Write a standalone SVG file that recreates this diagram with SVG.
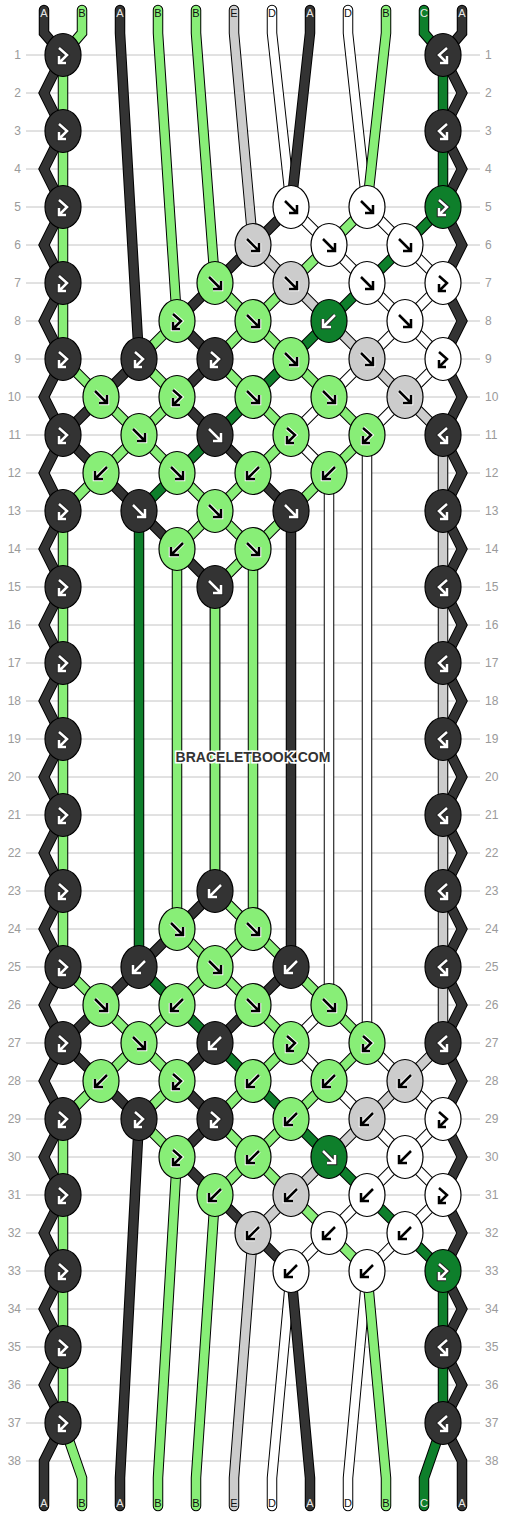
<svg xmlns="http://www.w3.org/2000/svg" xmlns:xlink="http://www.w3.org/1999/xlink" width="506" height="1516" viewBox="0 0 506 1516">
<style>
.bg{fill:#fff}
.rl{stroke:#c4c4c4;stroke-width:1}
.lab{font-family:"Liberation Sans",Arial,sans-serif;font-size:12px;fill:#9a9a9a}
.lr{text-anchor:end}
.o{fill:none;stroke:#000;stroke-width:10.5;stroke-linejoin:miter;stroke-linecap:round}
.i{fill:none;stroke-width:8.5;stroke-linejoin:miter;stroke-linecap:round}
.tA{stroke:#333333}.tB{stroke:#88ee77}.tC{stroke:#0e7f2b}.tD{stroke:#ffffff}.tE{stroke:#cccccc}
.k{stroke:#000;stroke-width:1.2}
.kA{fill:#333333}.kB{fill:#88ee77}.kC{fill:#0e7f2b}.kD{fill:#ffffff}.kE{fill:#cccccc}
.ad{stroke:#ffffff;color:#222222}
.al{stroke:#000000;color:#ffffff}
.tl{font-family:"Liberation Sans",Arial,sans-serif;font-size:11px;text-anchor:middle}
.tlw{fill:#e8e8e8}.tlk{fill:#111}
.wm{font-family:"Liberation Sans",Arial,sans-serif;font-size:14px;font-weight:bold;fill:#333;stroke:#fff;stroke-width:3;paint-order:stroke;text-anchor:middle}
</style>
<defs>
<g id="sF"><path d="M-6,-6 L5,5 M6,-2 V6 H-2" fill="none" stroke="currentColor" stroke-width="4.5"/><path d="M-6,-6 L5,5 M6,-2 V6 H-2" fill="none" stroke-width="2.5"/></g>
<g id="sB"><path d="M6,-6 L-5,5 M-6,-2 V6 H2" fill="none" stroke="currentColor" stroke-width="4.5"/><path d="M6,-6 L-5,5 M-6,-2 V6 H2" fill="none" stroke-width="2.5"/></g>
<g id="sFB"><path d="M-4,-7 L4,0 L-3,7 M-4,1 V8 H3" fill="none" stroke="currentColor" stroke-width="4.5"/><path d="M-4,-7 L4,0 L-3,7 M-4,1 V8 H3" fill="none" stroke-width="2.5"/></g>
<g id="sBF"><path d="M4,-7 L-4,0 L3,7 M4,1 V8 H-3" fill="none" stroke="currentColor" stroke-width="4.5"/><path d="M4,-7 L-4,0 L3,7 M4,1 V8 H-3" fill="none" stroke-width="2.5"/></g>
<ellipse id="kn" rx="18" ry="21.5"/>
</defs>
<rect class="bg" width="506" height="1516"/>
<g id="rows">
<line class="rl" x1="26" x2="480" y1="55" y2="55"/><line class="rl" x1="26" x2="480" y1="93" y2="93"/><line class="rl" x1="26" x2="480" y1="131" y2="131"/><line class="rl" x1="26" x2="480" y1="169" y2="169"/><line class="rl" x1="26" x2="480" y1="207" y2="207"/><line class="rl" x1="26" x2="480" y1="245" y2="245"/><line class="rl" x1="26" x2="480" y1="283" y2="283"/><line class="rl" x1="26" x2="480" y1="321" y2="321"/><line class="rl" x1="26" x2="480" y1="359" y2="359"/><line class="rl" x1="26" x2="480" y1="397" y2="397"/><line class="rl" x1="26" x2="480" y1="435" y2="435"/><line class="rl" x1="26" x2="480" y1="473" y2="473"/><line class="rl" x1="26" x2="480" y1="511" y2="511"/><line class="rl" x1="26" x2="480" y1="549" y2="549"/><line class="rl" x1="26" x2="480" y1="587" y2="587"/><line class="rl" x1="26" x2="480" y1="625" y2="625"/><line class="rl" x1="26" x2="480" y1="663" y2="663"/><line class="rl" x1="26" x2="480" y1="701" y2="701"/><line class="rl" x1="26" x2="480" y1="739" y2="739"/><line class="rl" x1="26" x2="480" y1="777" y2="777"/><line class="rl" x1="26" x2="480" y1="815" y2="815"/><line class="rl" x1="26" x2="480" y1="853" y2="853"/><line class="rl" x1="26" x2="480" y1="891" y2="891"/><line class="rl" x1="26" x2="480" y1="929" y2="929"/><line class="rl" x1="26" x2="480" y1="967" y2="967"/><line class="rl" x1="26" x2="480" y1="1005" y2="1005"/><line class="rl" x1="26" x2="480" y1="1043" y2="1043"/><line class="rl" x1="26" x2="480" y1="1081" y2="1081"/><line class="rl" x1="26" x2="480" y1="1119" y2="1119"/><line class="rl" x1="26" x2="480" y1="1157" y2="1157"/><line class="rl" x1="26" x2="480" y1="1195" y2="1195"/><line class="rl" x1="26" x2="480" y1="1233" y2="1233"/><line class="rl" x1="26" x2="480" y1="1271" y2="1271"/><line class="rl" x1="26" x2="480" y1="1309" y2="1309"/><line class="rl" x1="26" x2="480" y1="1347" y2="1347"/><line class="rl" x1="26" x2="480" y1="1385" y2="1385"/><line class="rl" x1="26" x2="480" y1="1423" y2="1423"/><line class="rl" x1="26" x2="480" y1="1461" y2="1461"/>
</g>
<g id="row-labels">
<text class="lab lr" x="21" y="59">1</text><text class="lab lr" x="21" y="97">2</text><text class="lab lr" x="21" y="135">3</text><text class="lab lr" x="21" y="173">4</text><text class="lab lr" x="21" y="211">5</text><text class="lab lr" x="21" y="249">6</text><text class="lab lr" x="21" y="287">7</text><text class="lab lr" x="21" y="325">8</text><text class="lab lr" x="21" y="363">9</text><text class="lab lr" x="21" y="401">10</text><text class="lab lr" x="21" y="439">11</text><text class="lab lr" x="21" y="477">12</text><text class="lab lr" x="21" y="515">13</text><text class="lab lr" x="21" y="553">14</text><text class="lab lr" x="21" y="591">15</text><text class="lab lr" x="21" y="629">16</text><text class="lab lr" x="21" y="667">17</text><text class="lab lr" x="21" y="705">18</text><text class="lab lr" x="21" y="743">19</text><text class="lab lr" x="21" y="781">20</text><text class="lab lr" x="21" y="819">21</text><text class="lab lr" x="21" y="857">22</text><text class="lab lr" x="21" y="895">23</text><text class="lab lr" x="21" y="933">24</text><text class="lab lr" x="21" y="971">25</text><text class="lab lr" x="21" y="1009">26</text><text class="lab lr" x="21" y="1047">27</text><text class="lab lr" x="21" y="1085">28</text><text class="lab lr" x="21" y="1123">29</text><text class="lab lr" x="21" y="1161">30</text><text class="lab lr" x="21" y="1199">31</text><text class="lab lr" x="21" y="1237">32</text><text class="lab lr" x="21" y="1275">33</text><text class="lab lr" x="21" y="1313">34</text><text class="lab lr" x="21" y="1351">35</text><text class="lab lr" x="21" y="1389">36</text><text class="lab lr" x="21" y="1427">37</text><text class="lab lr" x="21" y="1465">38</text>
<text class="lab" x="485" y="59">1</text><text class="lab" x="485" y="97">2</text><text class="lab" x="485" y="135">3</text><text class="lab" x="485" y="173">4</text><text class="lab" x="485" y="211">5</text><text class="lab" x="485" y="249">6</text><text class="lab" x="485" y="287">7</text><text class="lab" x="485" y="325">8</text><text class="lab" x="485" y="363">9</text><text class="lab" x="485" y="401">10</text><text class="lab" x="485" y="439">11</text><text class="lab" x="485" y="477">12</text><text class="lab" x="485" y="515">13</text><text class="lab" x="485" y="553">14</text><text class="lab" x="485" y="591">15</text><text class="lab" x="485" y="629">16</text><text class="lab" x="485" y="667">17</text><text class="lab" x="485" y="705">18</text><text class="lab" x="485" y="743">19</text><text class="lab" x="485" y="781">20</text><text class="lab" x="485" y="819">21</text><text class="lab" x="485" y="857">22</text><text class="lab" x="485" y="895">23</text><text class="lab" x="485" y="933">24</text><text class="lab" x="485" y="971">25</text><text class="lab" x="485" y="1009">26</text><text class="lab" x="485" y="1047">27</text><text class="lab" x="485" y="1085">28</text><text class="lab" x="485" y="1123">29</text><text class="lab" x="485" y="1161">30</text><text class="lab" x="485" y="1199">31</text><text class="lab" x="485" y="1237">32</text><text class="lab" x="485" y="1275">33</text><text class="lab" x="485" y="1313">34</text><text class="lab" x="485" y="1351">35</text><text class="lab" x="485" y="1389">36</text><text class="lab" x="485" y="1427">37</text><text class="lab" x="485" y="1465">38</text>
</g>
<g id="connectors">
<g id="t0"><polyline class="o" points="44,10 44,33 63,55 44,93 63,131 44,169 63,207 44,245 63,283 44,321 63,359 44,397 63,435 44,473 63,511 44,549 63,587 44,625 63,663 44,701 63,739 44,777 63,815 44,853 63,891 44,929 63,967 44,1005 63,1043 44,1081 63,1119 44,1157 63,1195 44,1233 63,1271 44,1309 63,1347 44,1385 63,1423 44,1461 44,1506"/><polyline class="i tA" points="44,10 44,33 63,55 44,93 63,131 44,169 63,207 44,245 63,283 44,321 63,359 44,397 63,435 44,473 63,511 44,549 63,587 44,625 63,663 44,701 63,739 44,777 63,815 44,853 63,891 44,929 63,967 44,1005 63,1043 44,1081 63,1119 44,1157 63,1195 44,1233 63,1271 44,1309 63,1347 44,1385 63,1423 44,1461 44,1506"/></g>
<g id="t11"><polyline class="o" points="462,10 462,33 443,55 462,93 443,131 462,169 443,207 462,245 443,283 462,321 443,359 462,397 443,435 462,473 443,511 462,549 443,587 462,625 443,663 462,701 443,739 462,777 443,815 462,853 443,891 462,929 443,967 462,1005 443,1043 462,1081 443,1119 462,1157 443,1195 462,1233 443,1271 462,1309 443,1347 462,1385 443,1423 462,1461 462,1506"/><polyline class="i tA" points="462,10 462,33 443,55 462,93 443,131 462,169 443,207 462,245 443,283 462,321 443,359 462,397 443,435 462,473 443,511 462,549 443,587 462,625 443,663 462,701 443,739 462,777 443,815 462,853 443,891 462,929 443,967 462,1005 443,1043 462,1081 443,1119 462,1157 443,1195 462,1233 443,1271 462,1309 443,1347 462,1385 443,1423 462,1461 462,1506"/></g>
<g id="t1"><polyline class="o" points="82,10 82,33 63,55 63,359 101,397 139,435 177,473 215,511 253,549 253,929 215,967 177,1005 139,1043 101,1081 63,1119 63,1423 82,1478 82,1506"/><polyline class="i tB" points="82,10 82,33 63,55 63,359 101,397 139,435 177,473 215,511 253,549 253,929 215,967 177,1005 139,1043 101,1081 63,1119 63,1423 82,1478 82,1506"/></g>
<g id="t2"><polyline class="o" points="120,10 120,33 139,359 101,397 63,435 101,473 139,511 177,549 215,587 215,891 177,929 139,967 101,1005 63,1043 101,1081 139,1119 120,1478 120,1506"/><polyline class="i tA" points="120,10 120,33 139,359 101,397 63,435 101,473 139,511 177,549 215,587 215,891 177,929 139,967 101,1005 63,1043 101,1081 139,1119 120,1478 120,1506"/></g>
<g id="t3"><polyline class="o" points="158,10 158,33 177,321 139,359 177,397 139,435 101,473 63,511 63,967 101,1005 139,1043 177,1081 139,1119 177,1157 158,1478 158,1506"/><polyline class="i tB" points="158,10 158,33 177,321 139,359 177,397 139,435 101,473 63,511 63,967 101,1005 139,1043 177,1081 139,1119 177,1157 158,1478 158,1506"/></g>
<g id="t4"><polyline class="o" points="196,10 196,33 215,283 253,321 291,359 329,397 367,435 329,473 291,511 253,549 215,587 215,891 253,929 291,967 329,1005 367,1043 329,1081 291,1119 253,1157 215,1195 196,1478 196,1506"/><polyline class="i tB" points="196,10 196,33 215,283 253,321 291,359 329,397 367,435 329,473 291,511 253,549 215,587 215,891 253,929 291,967 329,1005 367,1043 329,1081 291,1119 253,1157 215,1195 196,1478 196,1506"/></g>
<g id="t5"><polyline class="o" points="234,10 234,33 253,245 291,283 329,321 367,359 405,397 443,435 443,1043 405,1081 367,1119 329,1157 291,1195 253,1233 234,1478 234,1506"/><polyline class="i tE" points="234,10 234,33 253,245 291,283 329,321 367,359 405,397 443,435 443,1043 405,1081 367,1119 329,1157 291,1195 253,1233 234,1478 234,1506"/></g>
<g id="t6"><polyline class="o" points="272,10 272,33 291,207 329,245 367,283 405,321 443,359 405,397 367,435 367,1043 405,1081 443,1119 405,1157 367,1195 329,1233 291,1271 272,1478 272,1506"/><polyline class="i tD" points="272,10 272,33 291,207 329,245 367,283 405,321 443,359 405,397 367,435 367,1043 405,1081 443,1119 405,1157 367,1195 329,1233 291,1271 272,1478 272,1506"/></g>
<g id="t7"><polyline class="o" points="310,10 310,33 291,207 253,245 215,283 177,321 215,359 177,397 215,435 253,473 291,511 291,967 253,1005 215,1043 177,1081 215,1119 177,1157 215,1195 253,1233 291,1271 310,1478 310,1506"/><polyline class="i tA" points="310,10 310,33 291,207 253,245 215,283 177,321 215,359 177,397 215,435 253,473 291,511 291,967 253,1005 215,1043 177,1081 215,1119 177,1157 215,1195 253,1233 291,1271 310,1478 310,1506"/></g>
<g id="t8"><polyline class="o" points="348,10 348,33 367,207 405,245 443,283 405,321 367,359 329,397 291,435 329,473 329,1005 291,1043 329,1081 367,1119 405,1157 443,1195 405,1233 367,1271 348,1478 348,1506"/><polyline class="i tD" points="348,10 348,33 367,207 405,245 443,283 405,321 367,359 329,397 291,435 329,473 329,1005 291,1043 329,1081 367,1119 405,1157 443,1195 405,1233 367,1271 348,1478 348,1506"/></g>
<g id="t9"><polyline class="o" points="386,10 386,33 367,207 329,245 291,283 253,321 215,359 253,397 291,435 253,473 215,511 177,549 177,929 215,967 253,1005 291,1043 253,1081 215,1119 253,1157 291,1195 329,1233 367,1271 386,1478 386,1506"/><polyline class="i tB" points="386,10 386,33 367,207 329,245 291,283 253,321 215,359 253,397 291,435 253,473 215,511 177,549 177,929 215,967 253,1005 291,1043 253,1081 215,1119 253,1157 291,1195 329,1233 367,1271 386,1478 386,1506"/></g>
<g id="t10"><polyline class="o" points="424,10 424,33 443,55 443,207 405,245 367,283 329,321 291,359 253,397 215,435 177,473 139,511 139,967 177,1005 215,1043 253,1081 291,1119 329,1157 367,1195 405,1233 443,1271 443,1423 424,1478 424,1506"/><polyline class="i tC" points="424,10 424,33 443,55 443,207 405,245 367,283 329,321 291,359 253,397 215,435 177,473 139,511 139,967 177,1005 215,1043 253,1081 291,1119 329,1157 367,1195 405,1233 443,1271 443,1423 424,1478 424,1506"/></g>
</g>
<g id="thread-labels">
<text class="tl tlw" x="44" y="17">A</text><text class="tl tlk" x="82" y="17">B</text><text class="tl tlw" x="120" y="17">A</text><text class="tl tlk" x="158" y="17">B</text><text class="tl tlk" x="196" y="17">B</text><text class="tl tlk" x="234" y="17">E</text><text class="tl tlk" x="272" y="17">D</text><text class="tl tlw" x="310" y="17">A</text><text class="tl tlk" x="348" y="17">D</text><text class="tl tlk" x="386" y="17">B</text><text class="tl tlw" x="424" y="17">C</text><text class="tl tlw" x="462" y="17">A</text>
<text class="tl tlw" x="44" y="1507">A</text><text class="tl tlk" x="82" y="1507">B</text><text class="tl tlw" x="120" y="1507">A</text><text class="tl tlk" x="158" y="1507">B</text><text class="tl tlk" x="196" y="1507">B</text><text class="tl tlk" x="234" y="1507">E</text><text class="tl tlk" x="272" y="1507">D</text><text class="tl tlw" x="310" y="1507">A</text><text class="tl tlk" x="348" y="1507">D</text><text class="tl tlk" x="386" y="1507">B</text><text class="tl tlw" x="424" y="1507">C</text><text class="tl tlw" x="462" y="1507">A</text>
</g>
<g id="knots">
<g id="k1a" transform="translate(63,55)"><use href="#kn" class="k kA"/><use href="#sFB" class="ad"/></g>
<g id="k1f" transform="translate(443,55)"><use href="#kn" class="k kA"/><use href="#sBF" class="ad"/></g>
<g id="k3a" transform="translate(63,131)"><use href="#kn" class="k kA"/><use href="#sFB" class="ad"/></g>
<g id="k3f" transform="translate(443,131)"><use href="#kn" class="k kA"/><use href="#sBF" class="ad"/></g>
<g id="k5a" transform="translate(63,207)"><use href="#kn" class="k kA"/><use href="#sFB" class="ad"/></g>
<g id="k5d" transform="translate(291,207)"><use href="#kn" class="k kD"/><use href="#sF" class="al"/></g>
<g id="k5e" transform="translate(367,207)"><use href="#kn" class="k kD"/><use href="#sF" class="al"/></g>
<g id="k5f" transform="translate(443,207)"><use href="#kn" class="k kC"/><use href="#sFB" class="ad"/></g>
<g id="k6c" transform="translate(253,245)"><use href="#kn" class="k kE"/><use href="#sF" class="al"/></g>
<g id="k6d" transform="translate(329,245)"><use href="#kn" class="k kD"/><use href="#sF" class="al"/></g>
<g id="k6e" transform="translate(405,245)"><use href="#kn" class="k kD"/><use href="#sF" class="al"/></g>
<g id="k7a" transform="translate(63,283)"><use href="#kn" class="k kA"/><use href="#sFB" class="ad"/></g>
<g id="k7c" transform="translate(215,283)"><use href="#kn" class="k kB"/><use href="#sF" class="al"/></g>
<g id="k7d" transform="translate(291,283)"><use href="#kn" class="k kE"/><use href="#sF" class="al"/></g>
<g id="k7e" transform="translate(367,283)"><use href="#kn" class="k kD"/><use href="#sF" class="al"/></g>
<g id="k7f" transform="translate(443,283)"><use href="#kn" class="k kD"/><use href="#sFB" class="al"/></g>
<g id="k8b" transform="translate(177,321)"><use href="#kn" class="k kB"/><use href="#sFB" class="al"/></g>
<g id="k8c" transform="translate(253,321)"><use href="#kn" class="k kB"/><use href="#sF" class="al"/></g>
<g id="k8d" transform="translate(329,321)"><use href="#kn" class="k kC"/><use href="#sB" class="ad"/></g>
<g id="k8e" transform="translate(405,321)"><use href="#kn" class="k kD"/><use href="#sF" class="al"/></g>
<g id="k9a" transform="translate(63,359)"><use href="#kn" class="k kA"/><use href="#sFB" class="ad"/></g>
<g id="k9b" transform="translate(139,359)"><use href="#kn" class="k kA"/><use href="#sFB" class="ad"/></g>
<g id="k9c" transform="translate(215,359)"><use href="#kn" class="k kA"/><use href="#sFB" class="ad"/></g>
<g id="k9d" transform="translate(291,359)"><use href="#kn" class="k kB"/><use href="#sF" class="al"/></g>
<g id="k9e" transform="translate(367,359)"><use href="#kn" class="k kE"/><use href="#sF" class="al"/></g>
<g id="k9f" transform="translate(443,359)"><use href="#kn" class="k kD"/><use href="#sFB" class="al"/></g>
<g id="k10a" transform="translate(101,397)"><use href="#kn" class="k kB"/><use href="#sF" class="al"/></g>
<g id="k10b" transform="translate(177,397)"><use href="#kn" class="k kB"/><use href="#sFB" class="al"/></g>
<g id="k10c" transform="translate(253,397)"><use href="#kn" class="k kB"/><use href="#sF" class="al"/></g>
<g id="k10d" transform="translate(329,397)"><use href="#kn" class="k kB"/><use href="#sF" class="al"/></g>
<g id="k10e" transform="translate(405,397)"><use href="#kn" class="k kE"/><use href="#sF" class="al"/></g>
<g id="k11a" transform="translate(63,435)"><use href="#kn" class="k kA"/><use href="#sFB" class="ad"/></g>
<g id="k11b" transform="translate(139,435)"><use href="#kn" class="k kB"/><use href="#sF" class="al"/></g>
<g id="k11c" transform="translate(215,435)"><use href="#kn" class="k kA"/><use href="#sF" class="ad"/></g>
<g id="k11d" transform="translate(291,435)"><use href="#kn" class="k kB"/><use href="#sFB" class="al"/></g>
<g id="k11e" transform="translate(367,435)"><use href="#kn" class="k kB"/><use href="#sFB" class="al"/></g>
<g id="k11f" transform="translate(443,435)"><use href="#kn" class="k kA"/><use href="#sBF" class="ad"/></g>
<g id="k12a" transform="translate(101,473)"><use href="#kn" class="k kB"/><use href="#sB" class="al"/></g>
<g id="k12b" transform="translate(177,473)"><use href="#kn" class="k kB"/><use href="#sF" class="al"/></g>
<g id="k12c" transform="translate(253,473)"><use href="#kn" class="k kB"/><use href="#sB" class="al"/></g>
<g id="k12d" transform="translate(329,473)"><use href="#kn" class="k kB"/><use href="#sB" class="al"/></g>
<g id="k13a" transform="translate(63,511)"><use href="#kn" class="k kA"/><use href="#sFB" class="ad"/></g>
<g id="k13b" transform="translate(139,511)"><use href="#kn" class="k kA"/><use href="#sF" class="ad"/></g>
<g id="k13c" transform="translate(215,511)"><use href="#kn" class="k kB"/><use href="#sF" class="al"/></g>
<g id="k13d" transform="translate(291,511)"><use href="#kn" class="k kA"/><use href="#sF" class="ad"/></g>
<g id="k13f" transform="translate(443,511)"><use href="#kn" class="k kA"/><use href="#sBF" class="ad"/></g>
<g id="k14b" transform="translate(177,549)"><use href="#kn" class="k kB"/><use href="#sB" class="al"/></g>
<g id="k14c" transform="translate(253,549)"><use href="#kn" class="k kB"/><use href="#sF" class="al"/></g>
<g id="k15a" transform="translate(63,587)"><use href="#kn" class="k kA"/><use href="#sFB" class="ad"/></g>
<g id="k15c" transform="translate(215,587)"><use href="#kn" class="k kA"/><use href="#sF" class="ad"/></g>
<g id="k15f" transform="translate(443,587)"><use href="#kn" class="k kA"/><use href="#sBF" class="ad"/></g>
<g id="k17a" transform="translate(63,663)"><use href="#kn" class="k kA"/><use href="#sFB" class="ad"/></g>
<g id="k17f" transform="translate(443,663)"><use href="#kn" class="k kA"/><use href="#sBF" class="ad"/></g>
<g id="k19a" transform="translate(63,739)"><use href="#kn" class="k kA"/><use href="#sFB" class="ad"/></g>
<g id="k19f" transform="translate(443,739)"><use href="#kn" class="k kA"/><use href="#sBF" class="ad"/></g>
<g id="k21a" transform="translate(63,815)"><use href="#kn" class="k kA"/><use href="#sFB" class="ad"/></g>
<g id="k21f" transform="translate(443,815)"><use href="#kn" class="k kA"/><use href="#sBF" class="ad"/></g>
<g id="k23a" transform="translate(63,891)"><use href="#kn" class="k kA"/><use href="#sFB" class="ad"/></g>
<g id="k23c" transform="translate(215,891)"><use href="#kn" class="k kA"/><use href="#sB" class="ad"/></g>
<g id="k23f" transform="translate(443,891)"><use href="#kn" class="k kA"/><use href="#sBF" class="ad"/></g>
<g id="k24b" transform="translate(177,929)"><use href="#kn" class="k kB"/><use href="#sF" class="al"/></g>
<g id="k24c" transform="translate(253,929)"><use href="#kn" class="k kB"/><use href="#sF" class="al"/></g>
<g id="k25a" transform="translate(63,967)"><use href="#kn" class="k kA"/><use href="#sFB" class="ad"/></g>
<g id="k25b" transform="translate(139,967)"><use href="#kn" class="k kA"/><use href="#sB" class="ad"/></g>
<g id="k25c" transform="translate(215,967)"><use href="#kn" class="k kB"/><use href="#sF" class="al"/></g>
<g id="k25d" transform="translate(291,967)"><use href="#kn" class="k kA"/><use href="#sB" class="ad"/></g>
<g id="k25f" transform="translate(443,967)"><use href="#kn" class="k kA"/><use href="#sBF" class="ad"/></g>
<g id="k26a" transform="translate(101,1005)"><use href="#kn" class="k kB"/><use href="#sF" class="al"/></g>
<g id="k26b" transform="translate(177,1005)"><use href="#kn" class="k kB"/><use href="#sB" class="al"/></g>
<g id="k26c" transform="translate(253,1005)"><use href="#kn" class="k kB"/><use href="#sF" class="al"/></g>
<g id="k26d" transform="translate(329,1005)"><use href="#kn" class="k kB"/><use href="#sF" class="al"/></g>
<g id="k27a" transform="translate(63,1043)"><use href="#kn" class="k kA"/><use href="#sFB" class="ad"/></g>
<g id="k27b" transform="translate(139,1043)"><use href="#kn" class="k kB"/><use href="#sF" class="al"/></g>
<g id="k27c" transform="translate(215,1043)"><use href="#kn" class="k kA"/><use href="#sB" class="ad"/></g>
<g id="k27d" transform="translate(291,1043)"><use href="#kn" class="k kB"/><use href="#sFB" class="al"/></g>
<g id="k27e" transform="translate(367,1043)"><use href="#kn" class="k kB"/><use href="#sFB" class="al"/></g>
<g id="k27f" transform="translate(443,1043)"><use href="#kn" class="k kA"/><use href="#sBF" class="ad"/></g>
<g id="k28a" transform="translate(101,1081)"><use href="#kn" class="k kB"/><use href="#sB" class="al"/></g>
<g id="k28b" transform="translate(177,1081)"><use href="#kn" class="k kB"/><use href="#sFB" class="al"/></g>
<g id="k28c" transform="translate(253,1081)"><use href="#kn" class="k kB"/><use href="#sB" class="al"/></g>
<g id="k28d" transform="translate(329,1081)"><use href="#kn" class="k kB"/><use href="#sB" class="al"/></g>
<g id="k28e" transform="translate(405,1081)"><use href="#kn" class="k kE"/><use href="#sB" class="al"/></g>
<g id="k29a" transform="translate(63,1119)"><use href="#kn" class="k kA"/><use href="#sFB" class="ad"/></g>
<g id="k29b" transform="translate(139,1119)"><use href="#kn" class="k kA"/><use href="#sFB" class="ad"/></g>
<g id="k29c" transform="translate(215,1119)"><use href="#kn" class="k kA"/><use href="#sFB" class="ad"/></g>
<g id="k29d" transform="translate(291,1119)"><use href="#kn" class="k kB"/><use href="#sB" class="al"/></g>
<g id="k29e" transform="translate(367,1119)"><use href="#kn" class="k kE"/><use href="#sB" class="al"/></g>
<g id="k29f" transform="translate(443,1119)"><use href="#kn" class="k kD"/><use href="#sFB" class="al"/></g>
<g id="k30b" transform="translate(177,1157)"><use href="#kn" class="k kB"/><use href="#sFB" class="al"/></g>
<g id="k30c" transform="translate(253,1157)"><use href="#kn" class="k kB"/><use href="#sB" class="al"/></g>
<g id="k30d" transform="translate(329,1157)"><use href="#kn" class="k kC"/><use href="#sF" class="ad"/></g>
<g id="k30e" transform="translate(405,1157)"><use href="#kn" class="k kD"/><use href="#sB" class="al"/></g>
<g id="k31a" transform="translate(63,1195)"><use href="#kn" class="k kA"/><use href="#sFB" class="ad"/></g>
<g id="k31c" transform="translate(215,1195)"><use href="#kn" class="k kB"/><use href="#sB" class="al"/></g>
<g id="k31d" transform="translate(291,1195)"><use href="#kn" class="k kE"/><use href="#sB" class="al"/></g>
<g id="k31e" transform="translate(367,1195)"><use href="#kn" class="k kD"/><use href="#sB" class="al"/></g>
<g id="k31f" transform="translate(443,1195)"><use href="#kn" class="k kD"/><use href="#sFB" class="al"/></g>
<g id="k32c" transform="translate(253,1233)"><use href="#kn" class="k kE"/><use href="#sB" class="al"/></g>
<g id="k32d" transform="translate(329,1233)"><use href="#kn" class="k kD"/><use href="#sB" class="al"/></g>
<g id="k32e" transform="translate(405,1233)"><use href="#kn" class="k kD"/><use href="#sB" class="al"/></g>
<g id="k33a" transform="translate(63,1271)"><use href="#kn" class="k kA"/><use href="#sFB" class="ad"/></g>
<g id="k33d" transform="translate(291,1271)"><use href="#kn" class="k kD"/><use href="#sB" class="al"/></g>
<g id="k33e" transform="translate(367,1271)"><use href="#kn" class="k kD"/><use href="#sB" class="al"/></g>
<g id="k33f" transform="translate(443,1271)"><use href="#kn" class="k kC"/><use href="#sFB" class="ad"/></g>
<g id="k35a" transform="translate(63,1347)"><use href="#kn" class="k kA"/><use href="#sFB" class="ad"/></g>
<g id="k35f" transform="translate(443,1347)"><use href="#kn" class="k kA"/><use href="#sBF" class="ad"/></g>
<g id="k37a" transform="translate(63,1423)"><use href="#kn" class="k kA"/><use href="#sFB" class="ad"/></g>
<g id="k37f" transform="translate(443,1423)"><use href="#kn" class="k kA"/><use href="#sBF" class="ad"/></g>
</g>
<text id="watermark" class="wm" x="253" y="762">BRACELETBOOK.COM</text>
</svg>
